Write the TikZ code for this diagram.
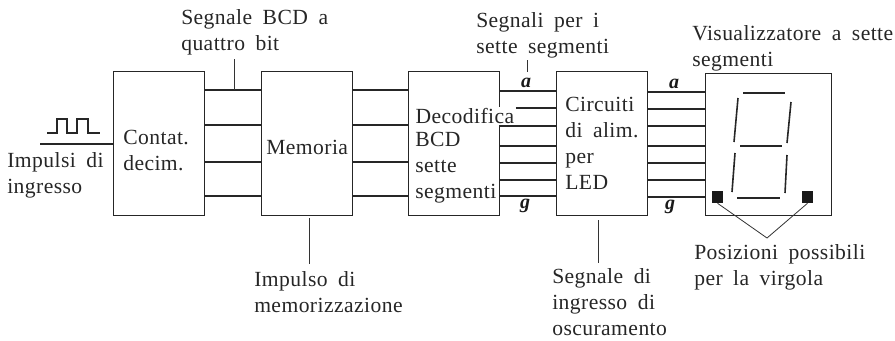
\documentclass[tikz,border=0pt]{standalone}
\usepackage{fontspec}
\setmainfont[LetterSpace=2,WordSpace=1.8]{Liberation Serif}
\usepackage{tikz}
\usetikzlibrary{positioning}
\tikzset{
  block/.style={rectangle, draw=black!85, line width=0.8pt, minimum width=68.25pt, minimum height=108pt, inner sep=0pt},
  lbl/.style={align=left, anchor=west, inner sep=0pt, font=\fontsize{16.2}{19.5}\selectfont, text=black!85},
  tag/.style={inner sep=0pt, font=\fontsize{15}{18}\selectfont\bfseries\itshape, text=black!90},
  bus/.style={line width=1pt, black!85},
  leader/.style={line width=0.6pt, black!80},
  seg/.style={line width=1.2pt, black!85},
  dotpos/.style={rectangle, fill=black!90, minimum width=8pt, minimum height=9pt, inner sep=0pt},
}
\begin{document}
\begin{tikzpicture}[x=0.75pt,y=-0.75pt]
\useasboundingbox (0,0) rectangle (895,340);
\node[block, anchor=south west] (cont) at (113,216) {};
\node[block, right=42pt of cont.south east, anchor=south west] (mem) {};
\node[block, right=41.25pt of mem.south east, anchor=south west] (dec) {};
\node[block, right=42pt of dec.south east, anchor=south west] (drv) {};
\node[block, right=42.75pt of drv.south east, anchor=south west, minimum width=94.5pt, minimum height=106.5pt] (disp) {};

\node[lbl] (contlbl) at (123,150) {Contat.\\decim.};
\node[lbl] (memlbl) at (266,147) {Memoria};
\node[lbl, fill=white, inner sep=1pt] (declbl) at (414,116) {Decodifica};
\node[lbl] (decrest) at (415,168) {BCD\\sette\\segmenti};
\node[lbl] (drvlbl) at (565,143) {Circuiti\\di alim.\\per\\LED};

\foreach \y in {90,125,162,196} {
  \draw[bus] (cont.east |- 0,\y) -- (mem.west |- 0,\y);
  \draw[bus] (mem.east |- 0,\y) -- (dec.west |- 0,\y);
}
\foreach \y in {91,126,146,163,180,196} \draw[bus] (dec.east |- 0,\y) -- (drv.west |- 0,\y);
\draw[bus] (declbl.east |- 0,108) -- (drv.west |- 0,108);
\foreach \y in {92,109,126,146,163,180,197} \draw[bus] (drv.east |- 0,\y) -- (disp.west |- 0,\y);

\coordinate (infree) at (40,144);
\draw[bus] (infree) -- (cont.west |- infree);
\draw[line width=1.2pt, black!85] (47,133) -- (57,133) -- (57,119) -- (67,119) -- (67,133) -- (77,133) -- (77,119) -- (88,119) -- (88,133) -- (100,133);
\node[lbl] (inlbl) at (7,175) {Impulsi di\\ingresso};

\node[lbl] (bcdlbl) at (181,32) {Segnale BCD a\\quattro bit};
\coordinate (bcdtop) at (234,59);
\draw[leader] (bcdtop) -- (bcdtop |- 0,90);
\node[lbl] (storelbl) at (254,292) {Impulso di\\memorizzazione};
\coordinate (storeend) at (309,264);
\draw[leader] (mem.south -| storeend) ++(0,2) -- (storeend);

\node[lbl] (seglbl) at (476,35) {Segnali per i\\sette segmenti};
\coordinate (segtop) at (527,60);
\draw[leader] (segtop) -- ++(0,12);
\node[tag] (a1) at (526,83) {a};
\node[tag] (g1) at (525,206) {g};
\node[tag] (a2) at (674,84) {a};
\node[tag] (g2) at (670,207) {g};
\node[lbl] (blanklbl) at (552,302.5) {Segnale di\\ingresso di\\oscuramento};
\coordinate (blankend) at (598,263);
\draw[leader] (drv.south -| blankend) ++(0,4) -- (blankend);

\node[lbl] (displbl) at (692,48) {Visualizzatore a sette\\segmenti};
\draw[seg] (743,93) -- (785,93);
\draw[seg] (740,146) -- (782,146);
\draw[seg] (737,198) -- (780,198);
\draw[seg] (738,98) -- (734,142);
\draw[seg] (791,102) -- (787,143);
\draw[seg] (735,153) -- (732,192);
\draw[seg] (787,155) -- (785,193);
\node[dotpos] (dpl) at (717.5,197) {};
\node[dotpos] (dpr) at (807.5,197) {};
\coordinate (dpjoin) at (767,238);
\draw[leader] (dpl.south) -- (dpjoin) -- (dpr.south);
\node[lbl] (dplbl) at (694,267) {Posizioni possibili\\per la virgola};
\end{tikzpicture}
\end{document}
